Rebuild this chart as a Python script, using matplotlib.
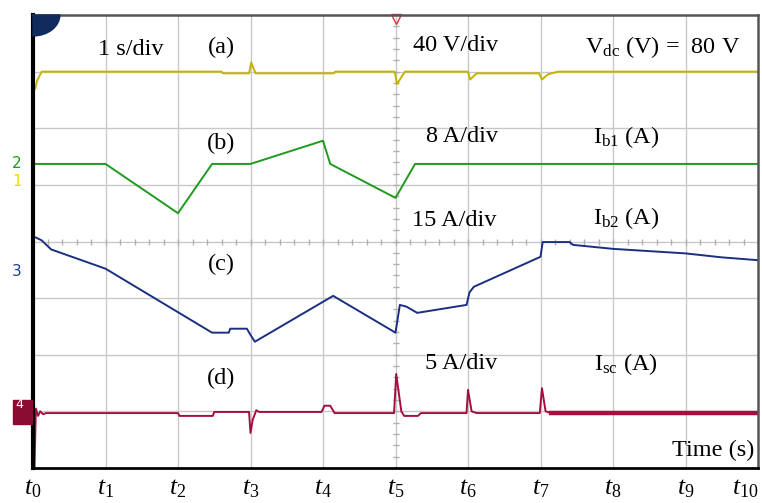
import numpy as np
import matplotlib
matplotlib.use("Agg")
import matplotlib.pyplot as plt
from matplotlib.patches import Wedge, Rectangle

plt.rcParams['font.family'] = ['Liberation Serif', 'DejaVu Serif']
plt.rcParams['mathtext.fontset'] = 'custom'
plt.rcParams['mathtext.rm'] = 'Liberation Serif'
plt.rcParams['mathtext.it'] = 'Liberation Serif:italic'

# traces, x in s (1 s/div), y in divisions (0 = bottom of screen)
vdc_t = [0.03, 0.06, 0.12, 2.6, 2.62, 2.98, 3.01, 3.07, 3.1, 4.15, 4.17,
         4.99, 5.02, 5.13, 6.0, 6.03, 6.12, 6.98, 7.02, 7.1, 7.24, 10.0]
vdc_v = [6.7, 6.85, 7.0, 7.0, 6.97, 6.97, 7.16, 6.97, 6.97, 6.97, 7.0,
         7.0, 6.78, 7.0, 7.0, 6.86, 6.97, 6.97, 6.86, 6.95, 7.0, 7.0]

ib1_t = [0.03, 1.0, 2.0, 2.47, 3.0, 4.0, 4.1, 5.0, 5.27, 10.0]
ib1_v = [5.37, 5.37, 4.5, 5.37, 5.37, 5.78, 5.37, 4.77, 5.37, 5.37]

ib2_t = [0.04, 0.12, 0.25, 1.0, 2.47, 2.7, 2.72, 2.95, 3.0, 3.06, 4.14,
         5.0, 5.06, 5.15, 5.3, 5.98, 6.02, 6.08, 7.0, 7.03, 7.4, 7.45,
         8.0, 8.5, 9.0, 9.5, 10.0]
ib2_v = [4.07, 4.02, 3.86, 3.52, 2.39, 2.39, 2.46, 2.46, 2.35, 2.23, 3.04,
         2.39, 2.88, 2.85, 2.74, 2.88, 3.1, 3.2, 3.73, 3.99, 3.99, 3.94,
         3.87, 3.83, 3.79, 3.72, 3.67]

isc_t = [0.0, 0.02, 0.04, 0.07, 0.1, 0.14, 0.18, 2.0, 2.02, 2.48, 2.5,
         2.98, 3.0, 3.03, 3.08, 3.12, 3.98, 4.02, 4.1, 4.16, 4.98, 5.01,
         5.08, 5.12, 5.31, 5.35, 5.98, 6.0, 6.05, 6.12, 6.99, 7.02, 7.07,
         7.15]
isc_v = [1.5, 0.0, 1.05, 0.92, 1.0, 0.95, 0.97, 0.97, 0.92, 0.92, 0.99,
         0.99, 0.62, 0.85, 1.02, 0.99, 0.99, 1.1, 1.1, 0.97, 0.97, 1.66,
         1.0, 0.92, 0.92, 0.97, 0.97, 1.38, 1.0, 0.97, 0.97, 1.41, 1.0,
         0.97]
isc_tail_t = [7.15, 10.0]
isc_tail_v = [0.97, 0.97]

tick_names = [r'$\mathit{t}_{\mathit{%d}}$' % i for i in range(11)]

fig = plt.figure(figsize=(7.62, 5.03), dpi=100)
ax = fig.add_axes([33 / 762, 1 - 468 / 503, 725 / 762, 453 / 503])
ax.set_xlim(0, 10)
ax.set_ylim(0, 8)

# scope graticule
for gx in range(1, 10):
    ax.axvline(gx, color='#c8c8c8', lw=1.0, zorder=0)
for gy in range(1, 8):
    ax.axhline(gy, color='#c8c8c8', lw=1.0, zorder=0)
mx = np.arange(0, 10.01, 0.2)
my = np.arange(0, 8.01, 0.2)
ax.plot(mx, np.full_like(mx, 4), ls='none', marker='|', ms=5, color='#b0b0b0', zorder=0)
ax.plot(np.full_like(my, 5), my, ls='none', marker='_', ms=5, color='#b0b0b0', zorder=0)

ax.plot(vdc_t, vdc_v, color='#c2b400', lw=1.4)
ax.plot(ib1_t, ib1_v, color='#1f9a1f', lw=1.4)
ax.plot(ib2_t, ib2_v, color='#1a2f80', lw=1.4)
ax.plot(isc_t, isc_v, color='#a3103e', lw=1.4)
ax.plot(isc_tail_t, isc_tail_v, color='#a3103e', lw=3.2)

for side in ['top', 'right']:
    ax.spines[side].set_color('#555555')
    ax.spines[side].set_linewidth(1.8)
ax.spines['left'].set_color('black')
ax.spines['left'].set_linewidth(3)
ax.spines['bottom'].set_color('black')
ax.spines['bottom'].set_linewidth(2)

ax.set_xticks(range(11))
ax.set_xticklabels(tick_names, fontsize=18.5)
ax.get_xticklabels()[-1].set_ha('right')
ax.tick_params(axis='x', length=0, pad=7)
ax.set_yticks([])

# annotations
fs = 17.5
ax.text(1.35, 7.39, '1 s/div', fontsize=fs, ha='center', va='center')
ax.text(2.6, 7.43, '(a)', fontsize=fs, ha='center', va='center')
ax.text(5.83, 7.46, '40 V/div', fontsize=fs, ha='center', va='center')
ax.text(9.76, 7.43, r'V$_{\mathrm{dc}}$ (V) =  80 V', fontsize=fs, ha='right', va='center')
ax.text(2.6, 5.74, '(b)', fontsize=fs, ha='center', va='center')
ax.text(5.92, 5.86, '8 A/div', fontsize=fs, ha='center', va='center')
ax.text(8.18, 5.85, r'I$_{\mathrm{b1}}$ (A)', fontsize=fs, ha='center', va='center')
ax.text(5.81, 4.37, '15 A/div', fontsize=fs, ha='center', va='center')
ax.text(8.18, 4.41, r'I$_{\mathrm{b2}}$ (A)', fontsize=fs, ha='center', va='center')
ax.text(2.6, 3.6, '(c)', fontsize=fs, ha='center', va='center')
ax.text(2.6, 1.59, '(d)', fontsize=fs, ha='center', va='center')
ax.text(5.9, 1.84, '5 A/div', fontsize=fs, ha='center', va='center')
ax.text(8.18, 1.83, r'I$_{\mathrm{sc}}$ (A)', fontsize=fs, ha='center', va='center')
ax.text(9.95, 0.31, 'Time (s)', fontsize=fs, ha='right', va='center')

# scope markers
ax.add_patch(Wedge((0, 8), 0.37, 270, 360, transform=ax.transData,
                   facecolor='#0f2a5c', edgecolor='#0f2a5c', clip_on=False, zorder=5))
ax.plot([5], [7.93], marker='v', ms=7, mfc='none', mec='#e0303a', clip_on=False)
fig.text(17 / 762, 1 - 163 / 503, '2', color='#1f9a1f', fontsize=11,
         family='DejaVu Sans', ha='center', va='center')
fig.text(17 / 762, 1 - 181 / 503, '1', color='#e8e000', fontsize=11,
         family='DejaVu Sans', ha='center', va='center')
fig.text(17 / 762, 1 - 272 / 503, '3', color='#1a40a0', fontsize=11,
         family='DejaVu Sans', ha='center', va='center')
fig.patches.append(Rectangle((13 / 762, 1 - 424 / 503), 19 / 762, 24 / 503,
                             transform=fig.transFigure, facecolor='#8a0c30',
                             edgecolor='#8a0c30'))
fig.text(19 / 762, 1 - 405 / 503, '4', color='white', fontsize=9,
         family='DejaVu Sans', ha='center', va='center')

fig.savefig('out.png', dpi=100)
